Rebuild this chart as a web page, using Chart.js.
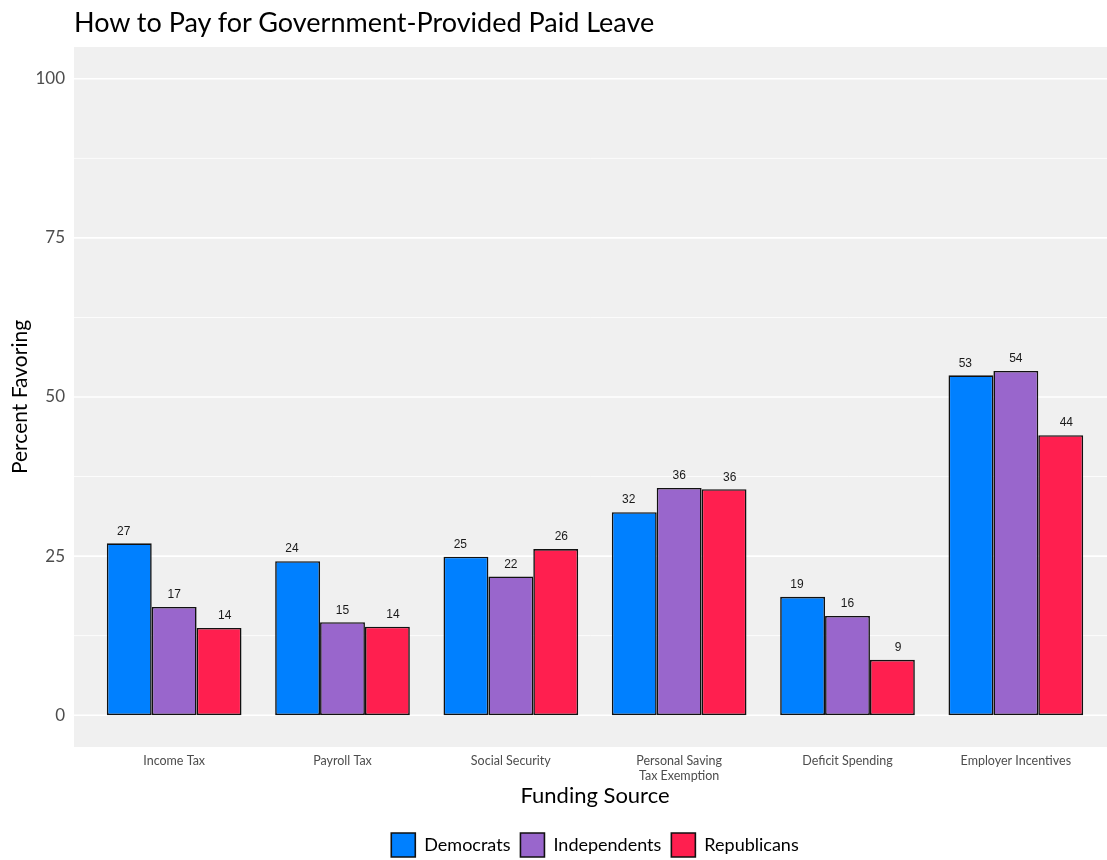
<!DOCTYPE html>
<html><head><meta charset="utf-8">
<script src="https://cdn.jsdelivr.net/npm/chart.js@4.4.0/dist/chart.umd.min.js"></script>
<style>
html,body{margin:0;padding:0;background:#fff;overflow:hidden;}
#wrap{position:relative;width:1107px;height:860px;overflow:hidden;}
#title{position:absolute;left:74px;top:5px;font-family:Lato,"Open Sans",sans-serif;font-size:27px;color:#000;white-space:nowrap;}
canvas{position:absolute;left:0;top:0;}
</style></head><body>
<div id="wrap"><canvas id="c" width="1107" height="867"></canvas><div id="title">How to Pay for Government-Provided Paid Leave</div></div>
<script>
const categories = ['Income Tax', 'Payroll Tax', 'Social Security', ['Personal Saving', 'Tax Exemption'], 'Deficit Spending', 'Employer Incentives'];
const seriesNames = ['Democrats', 'Independents', 'Republicans'];
const democrats = [27.0, 24.2, 24.9, 31.9, 18.6, 53.4];
const independents = [17.0, 14.6, 21.8, 35.7, 15.6, 54.1];
const republicans = [13.7, 13.9, 26.1, 35.5, 8.7, 44.0];
const yMajorTicks = [0, 25, 50, 75, 100];
const yMinorTicks = [12.5, 37.5, 62.5, 87.5];

const FONT = 'Lato, "Open Sans", sans-serif';
const colors = ['#0080ff', '#9966cc', '#ff1f4f'];

const panelPlugin = {
  id: 'panel',
  beforeDraw(chart) {
    const {ctx, scales: {y}} = chart;
    const left = 74, right = chart.width;
    const top = y.getPixelForValue(y.max), bottom = y.getPixelForValue(y.min);
    ctx.save();
    ctx.fillStyle = '#f0f0f0';
    ctx.fillRect(left, top, right - left, bottom - top);
    ctx.strokeStyle = '#ffffff';
    y.ticks.forEach(t => {
      const py = y.getPixelForValue(t.value);
      ctx.lineWidth = yMajorTicks.includes(t.value) ? 1.6 : 0.8;
      ctx.beginPath();
      ctx.moveTo(left, py);
      ctx.lineTo(right, py);
      ctx.stroke();
    });
    ctx.restore();
  }
};

const valuePlugin = {
  id: 'values',
  afterDatasetsDraw(chart) {
    const ctx = chart.ctx;
    ctx.save();
    ctx.font = '12px "Liberation Sans", Arial, sans-serif';
    ctx.fillStyle = '#1a1a1a';
    ctx.textAlign = 'center';
    ctx.textBaseline = 'middle';
    chart.data.datasets.forEach((ds, di) => {
      const meta = chart.getDatasetMeta(di);
      meta.data.forEach((bar, i) => {
        const shift = (di - 1) * bar.width * 0.125;
        ctx.fillText(String(Math.round(ds.data[i])), bar.x + shift, bar.y - 12);
      });
    });
    ctx.restore();
  }
};

const seriesData = [democrats, independents, republicans];

new Chart(document.getElementById('c'), {
  type: 'bar',
  data: {
    labels: categories,
    datasets: seriesNames.map((name, k) => ({
      label: name,
      data: seriesData[k],
      backgroundColor: colors[k],
      borderColor: '#111111',
      borderWidth: 1.6,
      borderSkipped: false,
      categoryPercentage: 0.8,
      barPercentage: 1.0
    }))
  },
  options: {
    responsive: false,
    animation: false,
    layout: {padding: {top: 47, left: 0, right: 7, bottom: 0}},
    plugins: {
      title: {display: false},
      tooltip: {enabled: false},
      legend: {
        position: 'bottom',
        fullSize: false,
        labels: {
          boxWidth: 24, boxHeight: 24, padding: 10,
          color: '#000',
          font: {family: FONT, size: 18}
        }
      }
    },
    scales: {
      x: {
        grid: {display: false, drawTicks: false},
        border: {display: false},
        ticks: {
          color: '#4d4d4d', padding: 6, maxRotation: 0, autoSkip: false,
          font: {family: FONT, size: 12.5}
        },
        title: {
          display: true, text: 'Funding Source', color: '#000',
          font: {family: FONT, size: 22},
          padding: {top: 2, bottom: 14}
        },
        afterFit(scale) { scale.height = 76; }
      },
      y: {
        min: -5, max: 105,
        grid: {display: false, drawTicks: false},
        border: {display: false},
        afterBuildTicks(scale) {
          scale.ticks = [...yMajorTicks, ...yMinorTicks].sort((a, b) => a - b).map(v => ({value: v}));
        },
        ticks: {
          color: '#4d4d4d', padding: 25,
          font: {family: FONT, size: 17},
          callback: (v) => yMajorTicks.includes(v) ? String(v) : ''
        },
        title: {
          display: true, text: 'Percent Favoring', color: '#000',
          font: {family: FONT, size: 21},
          padding: {top: 8, bottom: 0}
        },
        afterFit(scale) { scale.width = 90; }
      }
    }
  },
  plugins: [panelPlugin, valuePlugin]
});
</script>
</body></html>
